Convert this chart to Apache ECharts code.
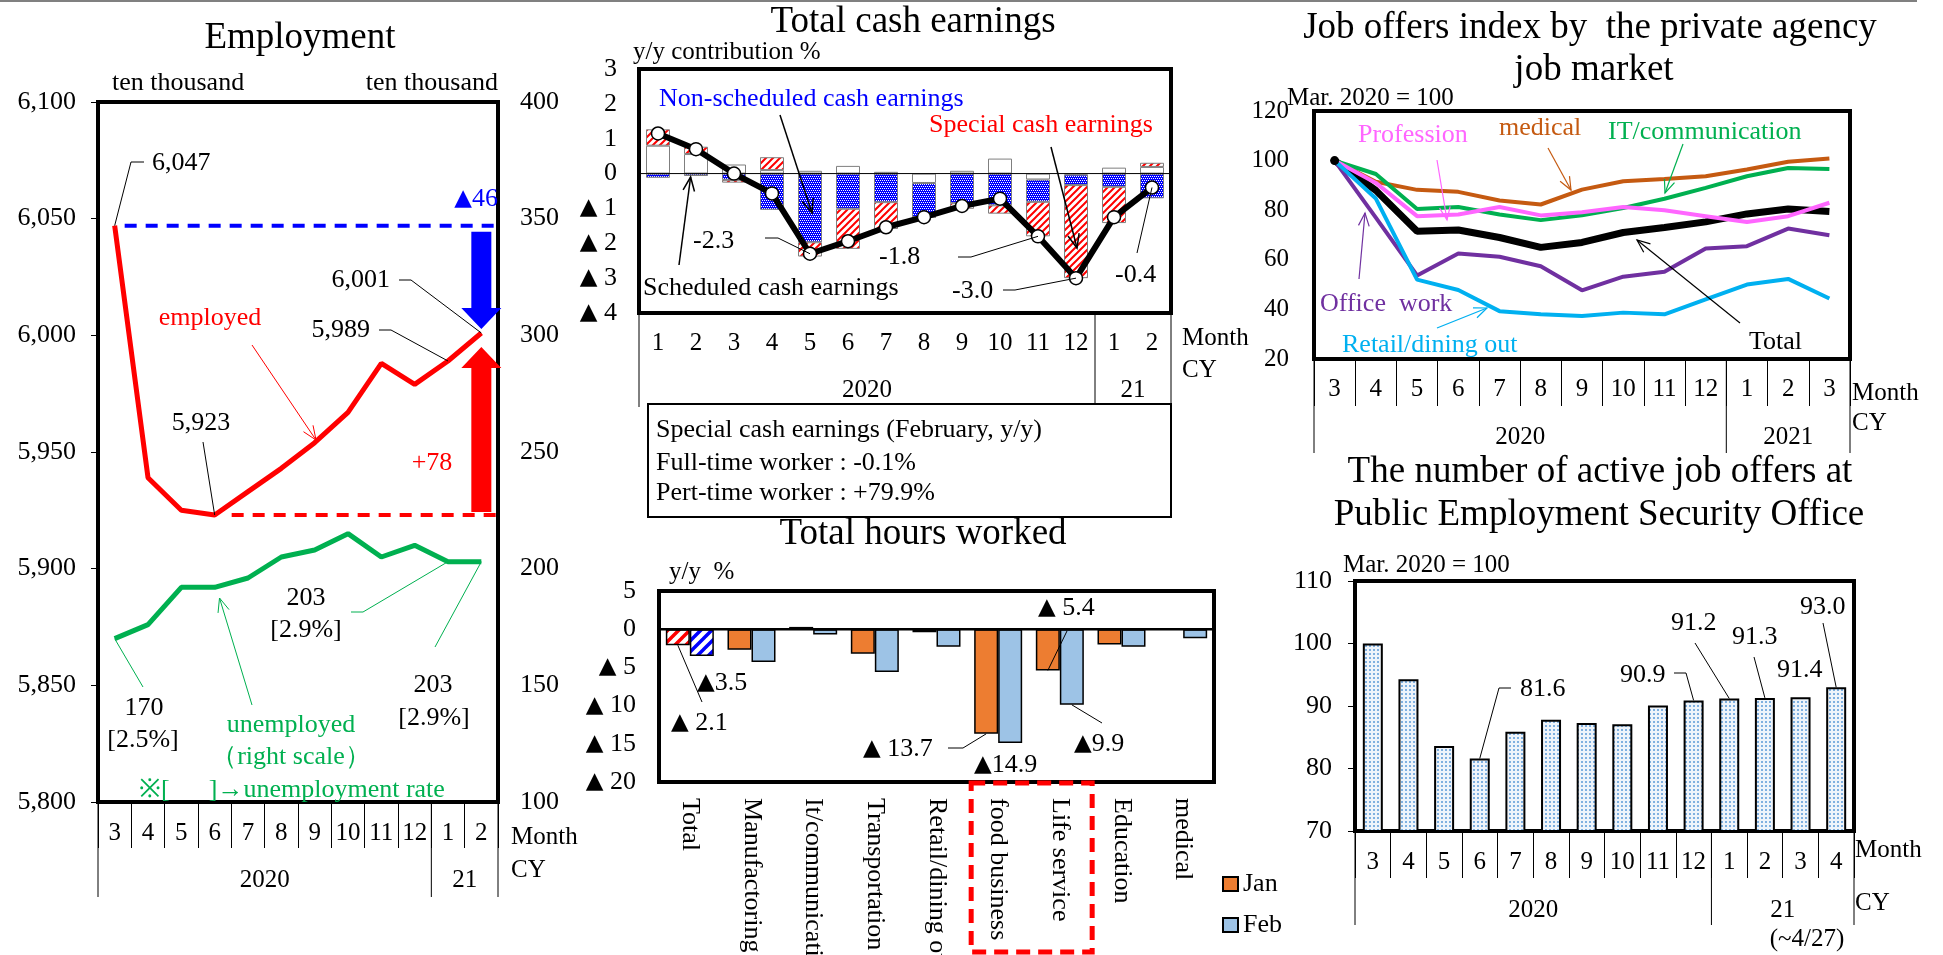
<!DOCTYPE html>
<html>
<head>
<meta charset="utf-8">
<title>Employment, earnings, hours and job offers</title>
<script src="https://cdn.jsdelivr.net/npm/echarts@6/dist/echarts.min.js"></script>
<style>
html,body{margin:0;padding:0;background:#fff;overflow:hidden;}
#chart{width:1943px;height:955px;}
</style>
</head>
<body>
<div id="chart"></div>
<script>
// ---- Employment (ten thousand persons) ----
const empMonths  = ['3','4','5','6','7','8','9','10','11','12','1','2'];
const employed   = [6047, 5939, 5925, 5923, 5933, 5943, 5954, 5967, 5988, 5979, 5989, 6001];
const unemployed = [170, 176, 192, 192, 196, 205, 208, 215, 205, 210, 203, 203];
const unempRate  = ['[2.5%]', '[2.9%]', '[2.9%]'];

// ---- Total cash earnings, y/y contribution (%) ----
const cashMonths   = ['1','2','3','4','5','6','7','8','9','10','11','12','1','2'];
const scheduled    = [0.80, 0.56, 0.26, 0.10, 0.08, 0.22, 0.05, -0.27, 0.08, 0.43, -0.17, -0.03, 0.17, 0.19];
const nonScheduled = [-0.12, -0.07, -0.18, -1.04, -1.97, -1.01, -0.82, -0.98, -0.85, -0.91, -0.64, -0.30, -0.38, -0.71];
const special      = [0.47, 0.21, -0.08, 0.37, -0.41, -1.15, -0.77, 0.00, -0.16, -0.24, -0.99, -2.67, -1.04, 0.12];
const cashTotal    = [1.15, 0.70, 0.00, -0.57, -2.3, -1.94, -1.54, -1.25, -0.93, -0.72, -1.8, -3.0, -1.25, -0.4];
const cashNotes    = ['Special cash earnings (February, y/y)', 'Full-time worker : -0.1%', 'Pert-time worker : +79.9%'];

// ---- Total hours worked, y/y (%) ----
const hourCats = ['Total','Manufactoring','It/communication','Transportation','Retail/dining out','food business','Life service','Education','medical'];
const hoursJan = [-2.1, -2.7, 0.3, -3.2, -0.4, -13.7, -5.4, -2.0, 0.1];
const hoursFeb = [-3.5, -4.3, -0.7, -5.6, -2.3, -14.9, -9.9, -2.3, -1.2];

// ---- Job offers index by the private agency (Mar. 2020 = 100) ----
const jobMonths     = ['3','4','5','6','7','8','9','10','11','12','1','2','3'];
const jobTotal      = [100, 88, 71.5, 72, 69, 65, 67, 71, 73, 75.3, 78.5, 80.5, 79.5];
const jobMedical    = [100, 91.5, 88.2, 87.4, 83.9, 82.3, 88.3, 91.7, 92.6, 93.7, 96.4, 99.5, 100.8];
const jobIT         = [100, 94.6, 80.5, 81.3, 78.3, 76, 78, 80.9, 84.6, 89, 93.7, 97, 96.6];
const jobProfession = [100, 91, 77.6, 78.3, 81.3, 77.9, 79.2, 81.3, 80, 77.6, 75.2, 77.6, 83];
const jobOffice     = [100, 77, 53.7, 62.5, 61.2, 57.4, 47.7, 53.2, 55.2, 64.6, 65.5, 72.6, 69.9];
const jobRetail     = [100, 84.7, 52, 47.8, 39.3, 38, 37.3, 38.7, 38, 44, 50, 52.3, 44.4];

// ---- Active job offers at Public Employment Security Office (Mar. 2020 = 100) ----
const pubMonths = ['3','4','5','6','7','8','9','10','11','12','1','2','3','4'];
const pubOffers = [100, 94.3, 83.6, 81.6, 85.9, 87.8, 87.3, 87.1, 90.1, 90.9, 91.2, 91.3, 91.4, 93.0];

const SERIF = '"Liberation Serif","Times New Roman",Times,serif';
const BLACK = '#000', RED = '#FF0000', BLUE = '#0000FF', GREEN = '#00B050';
const C_MED = '#C55A11', C_IT = '#00B050', C_PROF = '#FF66FF', C_OFF = '#7030A0', C_RET = '#00B0F0';

// the triangle marks negatives; it is set in a sans face so it keeps full size
const TRI = '\u25B2';
const triRich = color => ({ t: { fontFamily: '"DejaVu Sans"', fontSize: 23, color: color || BLACK } });

// fill patterns drawn on small tiles
function stripePattern(color, size, lw) {
  const c = document.createElement('canvas'); c.width = c.height = size;
  const g = c.getContext('2d');
  g.fillStyle = '#fff'; g.fillRect(0, 0, size, size);
  g.strokeStyle = color; g.lineWidth = lw;
  g.beginPath();
  for (let k = -1; k <= 1; k++) { g.moveTo(k * size - 1, size + 1); g.lineTo(k * size + size + 1, -1); }
  g.stroke();
  return { image: c, repeat: 'repeat' };
}
function checkerPattern() {
  const c = document.createElement('canvas'); c.width = c.height = 4;
  const g = c.getContext('2d');
  g.fillStyle = BLUE; g.fillRect(0, 0, 4, 4);
  g.fillStyle = '#fff';
  [[0,0],[2,0],[1,2],[3,2]].forEach(p => g.fillRect(p[0], p[1], 1, 1));
  return { image: c, repeat: 'repeat' };
}
function dotPattern() {
  const c = document.createElement('canvas'); c.width = c.height = 4;
  const g = c.getContext('2d');
  g.fillStyle = '#EEF4FB'; g.fillRect(0, 0, 4, 4);
  g.fillStyle = '#7FB0E0'; g.fillRect(1, 1, 2, 2);
  return { image: c, repeat: 'repeat' };
}

const lbl = extra => Object.assign({ fontFamily: SERIF, fontSize: 25, color: BLACK }, extra || {});
const negTri = v => v < 0 ? '{t|' + TRI + '} ' + (-v) : String(v);
const noLine = { show: false };
const noSplit = { show: false };

const chart = echarts.init(document.getElementById('chart'), null, { renderer: 'canvas', width: 1943, height: 955 });

const grids = [
  { left: 98,   top: 102, width: 400, height: 700 },
  { left: 639,  top: 69,  width: 532, height: 244 },
  { left: 659,  top: 591, width: 555, height: 191 },
  { left: 1314, top: 111, width: 536, height: 248 },
  { left: 1355, top: 581, width: 499, height: 250 }
].map(g => Object.assign(g, { show: true, borderColor: BLACK, borderWidth: 4, backgroundColor: 'transparent', containLabel: false, outerBoundsMode: 'none' }));

const option = {
  animation: false,
  backgroundColor: '#fff',
  grid: grids,
  legend: {
    data: ['Jan', 'Feb'], orient: 'vertical', left: 1217, top: 866,
    itemWidth: 15, itemHeight: 14, itemGap: 15, icon: 'rect', selectedMode: false,
    textStyle: { fontFamily: SERIF, fontSize: 26, color: BLACK }
  },
  xAxis: [
    { gridIndex: 0, type: 'category', data: empMonths, axisLine: noLine,
      axisTick: { show: true, interval: 0, length: 46, lineStyle: { color: BLACK, width: 1 } },
      axisLabel: lbl({ interval: 0, margin: 19 }) },
    { gridIndex: 1, type: 'category', data: cashMonths, axisLine: noLine, axisTick: { show: false },
      axisLabel: lbl({ interval: 0, margin: 18 }) },
    { gridIndex: 2, type: 'category', data: hourCats, axisLine: noLine, axisTick: { show: false },
      axisLabel: lbl({ interval: 0, margin: 16, rotate: -90, fontSize: 26, hideOverlap: false }) },
    { gridIndex: 3, type: 'category', data: jobMonths, axisLine: noLine,
      axisTick: { show: true, interval: 0, length: 47, lineStyle: { color: BLACK, width: 1 } },
      axisLabel: lbl({ interval: 0, margin: 18 }) },
    { gridIndex: 4, type: 'category', data: pubMonths, axisLine: noLine,
      axisTick: { show: true, interval: 0, length: 47, lineStyle: { color: BLACK, width: 1 } },
      axisLabel: lbl({ interval: 0, margin: 19 }) }
  ],
  yAxis: [
    { gridIndex: 0, type: 'value', min: 5800, max: 6100, interval: 50, axisLine: noLine, splitLine: noSplit,
      axisTick: { show: true, length: 7, lineStyle: { color: BLACK } },
      axisLabel: lbl({ fontSize: 26, margin: 22, formatter: v => v.toLocaleString('en-US') }) },
    { gridIndex: 0, type: 'value', position: 'right', min: 100, max: 400, interval: 50, axisLine: noLine, splitLine: noSplit,
      axisTick: { show: false }, axisLabel: lbl({ fontSize: 26, margin: 22 }) },
    { gridIndex: 1, type: 'value', min: -4, max: 3, interval: 1, axisLine: noLine, splitLine: noSplit,
      axisTick: { show: false }, axisLabel: lbl({ fontSize: 26, margin: 22, formatter: negTri, rich: triRich() }) },
    { gridIndex: 2, type: 'value', min: -20, max: 5, interval: 5, axisLine: noLine, splitLine: noSplit,
      axisTick: { show: false }, axisLabel: lbl({ fontSize: 26, margin: 23, formatter: negTri, rich: triRich() }) },
    { gridIndex: 3, type: 'value', min: 20, max: 120, interval: 20, axisLine: noLine, splitLine: noSplit,
      axisTick: { show: false }, axisLabel: lbl({ margin: 25 }) },
    { gridIndex: 4, type: 'value', min: 70, max: 110, interval: 10, axisLine: noLine, splitLine: noSplit,
      axisTick: { show: true, length: 7, lineStyle: { color: BLACK } }, axisLabel: lbl({ fontSize: 26, margin: 23 }) }
  ],
  series: [
    // 0, 1: employment
    { name: 'employed', type: 'line', xAxisIndex: 0, yAxisIndex: 0, data: employed, symbol: 'none',
      lineStyle: { color: RED, width: 5 }, itemStyle: { color: RED } },
    { name: 'unemployed', type: 'line', xAxisIndex: 0, yAxisIndex: 1, data: unemployed, symbol: 'none',
      lineStyle: { color: GREEN, width: 5 }, itemStyle: { color: GREEN } },
    // 2-5: cash earnings contributions and total
    { name: 'Scheduled cash earnings', type: 'bar', xAxisIndex: 1, yAxisIndex: 2, stack: 'cash', barWidth: 24, data: scheduled,
      itemStyle: { color: '#fff', borderColor: '#7F7F7F', borderWidth: 1 } },
    { name: 'Non-scheduled cash earnings', type: 'bar', xAxisIndex: 1, yAxisIndex: 2, stack: 'cash', barWidth: 24, data: nonScheduled,
      itemStyle: { color: checkerPattern(), borderColor: '#7F7F7F', borderWidth: 1 } },
    { name: 'Special cash earnings', type: 'bar', xAxisIndex: 1, yAxisIndex: 2, stack: 'cash', barWidth: 24, data: special,
      itemStyle: { color: stripePattern(RED, 7, 2), borderColor: '#7F7F7F', borderWidth: 1 } },
    { name: 'Total cash earnings', type: 'line', xAxisIndex: 1, yAxisIndex: 2, data: cashTotal, z: 4,
      symbol: 'circle', symbolSize: 13, lineStyle: { color: BLACK, width: 6 },
      itemStyle: { color: '#fff', borderColor: BLACK, borderWidth: 1.5 } },
    // 6, 7: hours worked
    { name: 'Jan', type: 'bar', xAxisIndex: 2, yAxisIndex: 3, barWidth: 24, barGap: '0%',
      data: hoursJan.map((v, i) => i === 0 ? { value: v, itemStyle: { color: stripePattern(RED, 11, 3.5) } } : v),
      itemStyle: { color: '#ED7D31', borderColor: BLACK, borderWidth: 1.5 } },
    { name: 'Feb', type: 'bar', xAxisIndex: 2, yAxisIndex: 3, barWidth: 24, barGap: '0%',
      data: hoursFeb.map((v, i) => i === 0 ? { value: v, itemStyle: { color: stripePattern(BLUE, 11, 3.5) } } : v),
      itemStyle: { color: '#9DC3E6', borderColor: BLACK, borderWidth: 1.5 } },
    // 8-13: job offers index
    { name: 'Total', type: 'line', xAxisIndex: 3, yAxisIndex: 4, symbol: 'none', lineStyle: { color: BLACK, width: 7 },
      data: jobTotal.map((v, i) => i === 0 ? { value: v, symbol: 'circle', symbolSize: 9, itemStyle: { color: BLACK } } : v) },
    { name: 'medical', type: 'line', xAxisIndex: 3, yAxisIndex: 4, data: jobMedical, symbol: 'none', lineStyle: { color: C_MED, width: 4 } },
    { name: 'IT/communication', type: 'line', xAxisIndex: 3, yAxisIndex: 4, data: jobIT, symbol: 'none', lineStyle: { color: C_IT, width: 4 } },
    { name: 'Profession', type: 'line', xAxisIndex: 3, yAxisIndex: 4, data: jobProfession, symbol: 'none', lineStyle: { color: C_PROF, width: 4 } },
    { name: 'Office work', type: 'line', xAxisIndex: 3, yAxisIndex: 4, data: jobOffice, symbol: 'none', lineStyle: { color: C_OFF, width: 4 } },
    { name: 'Retail/dining out', type: 'line', xAxisIndex: 3, yAxisIndex: 4, data: jobRetail, symbol: 'none', lineStyle: { color: C_RET, width: 4 } },
    // 14: public office offers
    { name: 'Active job offers', type: 'bar', xAxisIndex: 4, yAxisIndex: 5, data: pubOffers, barWidth: 20,
      itemStyle: { color: dotPattern(), borderColor: BLACK, borderWidth: 2 } }
  ]
};
chart.setOption(option);

// ---------- titles, notes, leader lines and the second category row ----------
function buildAnnotations() {
  const px = (s, i, v) => chart.convertToPixel({ seriesIndex: s }, [i, v]);
  const els = [];
  const text = (x, y, str, o) => els.push({ type: 'text', x, y, z: 100, silent: true,
    style: Object.assign({ text: str, fontFamily: SERIF, fontSize: 26, fill: BLACK, align: 'left', verticalAlign: 'middle' }, o || {}) });
  const triText = (x, y, num, gap, o) => {
    const color = (o && o.fill) || BLACK;
    text(x, y, '{t|' + TRI + '}' + (gap ? ' ' : '') + num, Object.assign({ rich: triRich(color) }, o || {}));
  };
  const line = (pts, color, w, dash, z) => els.push({ type: 'polyline', z: z || 90, silent: true,
    shape: { points: pts }, style: { stroke: color || BLACK, lineWidth: w || 1, fill: 'none', lineDash: dash || null } });
  const arrow = (x1, y1, x2, y2, color, w, h) => {
    const a = Math.atan2(y2 - y1, x2 - x1), s = Math.PI / 8;
    line([[x1, y1], [x2, y2]], color, w);
    line([[x2 - h * Math.cos(a - s), y2 - h * Math.sin(a - s)], [x2, y2], [x2 - h * Math.cos(a + s), y2 - h * Math.sin(a + s)]], color, w);
  };
  const bigArrow = (cx, y0, y1, color) => {
    const d = y1 > y0 ? 1 : -1, hb = y1 - d * 21;
    els.push({ type: 'polygon', z: 80, silent: true,
      shape: { points: [[cx - 10, y0], [cx + 10, y0], [cx + 10, hb], [cx + 20, hb], [cx, y1], [cx - 20, hb], [cx - 10, hb]] },
      style: { fill: color } });
  };
  const fmt = v => v.toLocaleString('en-US');

  line([[0, 1], [1917, 1]], '#808080', 2);

  // ===== Employment =====
  const E = (i, v) => px(0, i, v), U = (i, v) => px(1, i, v);
  const eW = E(1, 6000)[0] - E(0, 6000)[0];
  const eL = E(0, 6000)[0] - eW / 2, eR = E(11, 6000)[0] + eW / 2, eB = E(0, 5800)[1];
  text(300, 38, 'Employment', { fontSize: 37, align: 'center' });
  text(112, 83, 'ten thousand');
  text(eR, 83, 'ten thousand', { align: 'right' });
  const pStart = E(0, employed[0]), pLow = E(3, employed[3]), pEnd = E(11, employed[11]);
  line([[pStart[0] + 10, pStart[1]], [eR + 3, pStart[1]]], BLUE, 4, [12, 9]);
  line([[pLow[0] + 17, pLow[1]], [eR, pLow[1]]], RED, 4, [12, 9]);
  bigArrow(pEnd[0], pStart[1] + 6, pEnd[1] - 4, BLUE);
  bigArrow(pEnd[0], pLow[1] - 3, pEnd[1] + 14, RED);
  triText(eR, 199, Math.abs(employed[11] - employed[0]), false, { fill: BLUE, align: 'right' });
  text(432, 463, '+' + (employed[11] - employed[3]), { fill: RED, align: 'center' });
  text(210, 318, 'employed', { fill: RED, align: 'center' });
  arrow(252, 345, 316, 440, RED, 1, 15);
  text(152, 163, fmt(employed[0]));
  line([[144, 162], [131, 162], pStart]);
  text(390, 280, fmt(employed[11]), { align: 'right' });
  line([[399, 280], [411, 280], pEnd]);
  text(370, 330, fmt(employed[10]), { align: 'right' });
  line([[379, 330], [391, 330], E(10, employed[10])]);
  text(201, 423, fmt(employed[3]), { align: 'center' });
  line([[203, 442], pLow]);
  text(144, 708, String(unemployed[0]), { align: 'center' });
  text(143, 740, unempRate[0], { align: 'center' });
  line([[143, 687], U(0, unemployed[0])], GREEN);
  text(306, 598, String(unemployed[10]), { align: 'center' });
  text(306, 630, unempRate[1], { align: 'center' });
  line([[351, 612], [363, 612], U(10, unemployed[10])], GREEN);
  text(433, 685, String(unemployed[11]), { align: 'center' });
  text(434, 718, unempRate[2], { align: 'center' });
  line([[435, 647], U(11, unemployed[11])], GREEN);
  text(291, 725, 'unemployed', { fill: GREEN, align: 'center' });
  text(291, 757, '\uFF08right scale\uFF09', { fill: GREEN, align: 'center' });
  arrow(252, 705, 219.5, 598, GREEN, 1, 15);
  text(292, 790, '\u203B[      ]\u2192unemployment rate', { fill: GREEN, align: 'center' });
  [eL, E(9, 6000)[0] + eW / 2, eR].forEach(x => line([[x, eB], [x, 897]]));
  text((E(0, 6000)[0] + E(9, 6000)[0]) / 2, 880, '2020', { align: 'center', fontSize: 25 });
  text((E(10, 6000)[0] + E(11, 6000)[0]) / 2, 880, '21', { align: 'center', fontSize: 25 });
  text(511, 837, 'Month', { fontSize: 25 });
  text(511, 870, 'CY', { fontSize: 25 });

  // ===== Total cash earnings =====
  const C = (i, v) => px(5, i, v);
  const cW = C(1, 0)[0] - C(0, 0)[0];
  const cL = C(0, 0)[0] - cW / 2, cR = C(13, 0)[0] + cW / 2, cB = C(0, -4)[1], c0 = C(0, 0)[1];
  text(913, 22, 'Total cash earnings', { fontSize: 37, align: 'center' });
  text(633, 52, 'y/y contribution %', { fontSize: 25 });
  line([[cL, c0], [cR, c0]], BLACK, 1, null, 3);
  text(659, 99, 'Non-scheduled cash earnings', { fill: BLUE });
  arrow(780, 115, 812, 213, BLACK, 1.5, 15);
  text(929, 125, 'Special cash earnings', { fill: RED });
  arrow(1051, 147, 1077, 248, BLACK, 1.5, 15);
  text(643, 288, 'Scheduled cash earnings');
  arrow(679, 265, 690.6, 177, BLACK, 1.5, 15);
  text(693, 241, cashTotal[4].toFixed(1));
  line([[765, 238], [778, 238], C(4, cashTotal[4])]);
  text(879, 257, cashTotal[10].toFixed(1));
  line([[958, 257], [971, 257], C(10, cashTotal[10])]);
  text(952, 291, cashTotal[11].toFixed(1));
  line([[1003, 290], [1015, 290], C(11, cashTotal[11])]);
  text(1115, 275, cashTotal[13].toFixed(1));
  line([[1137, 253], C(13, cashTotal[13])]);
  line([[cL, cB], [cL, 407]]);
  line([[C(11, 0)[0] + cW / 2, cB], [C(11, 0)[0] + cW / 2, 404]]);
  line([[cR, cB], [cR, 404]]);
  text((C(0, 0)[0] + C(11, 0)[0]) / 2, 390, '2020', { align: 'center', fontSize: 25 });
  text((C(12, 0)[0] + C(13, 0)[0]) / 2, 390, '21', { align: 'center', fontSize: 25 });
  text(1182, 338, 'Month', { fontSize: 25 });
  text(1182, 370, 'CY', { fontSize: 25 });
  els.push({ type: 'rect', z: 90, silent: true, shape: { x: 648, y: 404, width: 523, height: 113 },
    style: { fill: '#fff', stroke: BLACK, lineWidth: 2 } });
  cashNotes.forEach((s, k) => text(656, [430, 463, 493][k], s));

  // ===== Total hours worked =====
  const H = (i, v) => px(6, i, v);
  const hW = H(1, 0)[0] - H(0, 0)[0];
  const hL = H(0, 0)[0] - hW / 2, hR = H(8, 0)[0] + hW / 2, h0 = H(0, 0)[1];
  text(923, 534, 'Total hours worked', { fontSize: 37, align: 'center' });
  text(669, 572, 'y/y  %', { fontSize: 25 });
  line([[hL, h0], [hR, h0]], BLACK, 2.5, null, 3);
  triText(1038, 608, Math.abs(hoursJan[6]), true);
  line([[1067, 631], [H(6, 0)[0] - 12, H(6, hoursJan[6])[1]]]);
  triText(697, 683, Math.abs(hoursFeb[0]), false);
  triText(671, 723, Math.abs(hoursJan[0]), true);
  line([[H(0, 0)[0] - 12, H(0, hoursJan[0])[1]], [702, 702]]);
  triText(863, 749, Math.abs(hoursJan[5]), true);
  line([[948, 748], [963, 748], [H(5, 0)[0] - 12, H(5, hoursJan[5])[1]]]);
  triText(974, 765, Math.abs(hoursFeb[5]), false);
  triText(1074, 744, Math.abs(hoursFeb[6]), false);
  line([[H(6, 0)[0] + 12, H(6, hoursFeb[6])[1]], [1102, 723]]);
  els.push({ type: 'rect', z: 90, silent: true, shape: { x: H(5, 0)[0] - 27, y: 783, width: 121, height: 169 },
    style: { fill: 'none', stroke: RED, lineWidth: 5, lineDash: [14, 8] } });

  // ===== Job offers index =====
  const J = (i, v) => px(8, i, v);
  const jW = J(1, 50)[0] - J(0, 50)[0];
  const jL = J(0, 50)[0] - jW / 2, jR = J(12, 50)[0] + jW / 2, jB = J(0, 20)[1];
  text(1590, 28, 'Job offers index by  the private agency', { fontSize: 37, align: 'center' });
  text(1594, 70, 'job market', { fontSize: 37, align: 'center' });
  text(1287, 98, 'Mar. 2020 = 100', { fontSize: 25 });
  text(1358, 135, 'Profession', { fill: C_PROF });
  arrow(1437, 160, 1447, 220, C_PROF, 1.2, 14);
  text(1499, 128, 'medical', { fill: C_MED });
  arrow(1548, 148, 1571, 190, C_MED, 1.2, 14);
  text(1608, 132, 'IT/communication', { fill: C_IT });
  arrow(1683, 144, 1665, 193, C_IT, 1.2, 14);
  text(1320, 304, 'Office  work', { fill: C_OFF });
  arrow(1359, 279, 1365, 213, C_OFF, 1.2, 14);
  text(1342, 345, 'Retail/dining out', { fill: C_RET });
  arrow(1437, 328, 1487, 308, C_RET, 1.2, 14);
  text(1749, 342, 'Total');
  arrow(1740, 323, 1637, 240, BLACK, 1.2, 14);
  [jL, J(9, 50)[0] + jW / 2, jR].forEach(x => line([[x, jB], [x, 453]]));
  text((J(0, 50)[0] + J(9, 50)[0]) / 2, 437, '2020', { align: 'center', fontSize: 25 });
  text(J(11, 50)[0], 437, '2021', { align: 'center', fontSize: 25 });
  text(1852, 393, 'Month', { fontSize: 25 });
  text(1852, 423, 'CY', { fontSize: 25 });

  // ===== Public Employment Security Office =====
  const Q = (i, v) => px(14, i, v);
  const qW = Q(1, 80)[0] - Q(0, 80)[0];
  const qL = Q(0, 80)[0] - qW / 2, qR = Q(13, 80)[0] + qW / 2, qB = Q(0, 70)[1];
  text(1600, 472, 'The number of active job offers at', { fontSize: 37, align: 'center' });
  text(1599, 515, 'Public Employment Security Office', { fontSize: 37, align: 'center' });
  text(1343, 565, 'Mar. 2020 = 100', { fontSize: 25 });
  text(1520, 689, pubOffers[3].toFixed(1));
  line([[1511, 688], [1499, 688], Q(3, pubOffers[3])]);
  text(1620, 675, pubOffers[9].toFixed(1));
  line([[1674, 673], [1686, 673], Q(9, pubOffers[9])]);
  text(1671, 623, pubOffers[10].toFixed(1));
  line([[1695, 643], Q(10, pubOffers[10])]);
  text(1732, 637, pubOffers[11].toFixed(1));
  line([[1754, 657], Q(11, pubOffers[11])]);
  text(1777, 670, pubOffers[12].toFixed(1));
  text(1800, 607, pubOffers[13].toFixed(1));
  line([[1823, 623], Q(13, pubOffers[13])]);
  [qL, Q(9, 80)[0] + qW / 2, qR].forEach(x => line([[x, qB], [x, 925]]));
  text((Q(0, 80)[0] + Q(9, 80)[0]) / 2, 910, '2020', { align: 'center', fontSize: 25 });
  text((Q(10, 80)[0] + Q(13, 80)[0]) / 2, 910, '21', { align: 'center', fontSize: 25 });
  text(1807, 939, '(~4/27)', { align: 'center', fontSize: 25 });
  text(1855, 850, 'Month', { fontSize: 25 });
  text(1855, 903, 'CY', { fontSize: 25 });

  chart.setOption({ graphic: { elements: els } });
}
buildAnnotations();
</script>
</body>
</html>
